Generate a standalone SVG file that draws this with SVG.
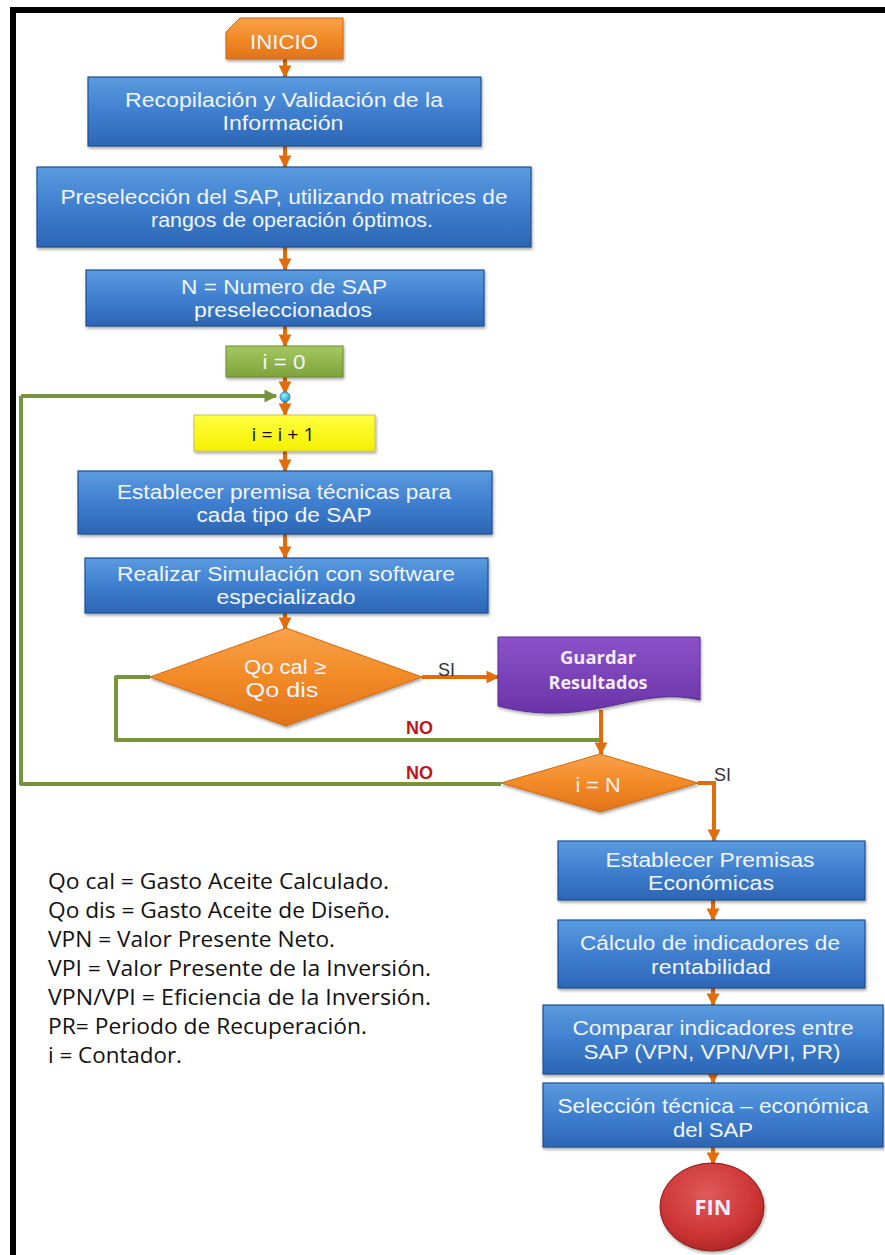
<svg xmlns="http://www.w3.org/2000/svg" width="885" height="1255" viewBox="0 0 885 1255">
  <defs>
    <linearGradient id="gBlue" x1="0" y1="0" x2="0" y2="1">
      <stop offset="0" stop-color="#5b9be0"/>
      <stop offset="0.5" stop-color="#3f7fcf"/>
      <stop offset="1" stop-color="#2c66b5"/>
    </linearGradient>
    <linearGradient id="gOrange" x1="0" y1="0" x2="0" y2="1">
      <stop offset="0" stop-color="#f9a24a"/>
      <stop offset="0.5" stop-color="#f28a26"/>
      <stop offset="1" stop-color="#e0731a"/>
    </linearGradient>
    <linearGradient id="gGreen" x1="0" y1="0" x2="0" y2="1">
      <stop offset="0" stop-color="#a4c860"/>
      <stop offset="1" stop-color="#7ea33a"/>
    </linearGradient>
    <linearGradient id="gYellow" x1="0" y1="0" x2="0" y2="1">
      <stop offset="0" stop-color="#ffff40"/>
      <stop offset="1" stop-color="#f4f000"/>
    </linearGradient>
    <linearGradient id="gPurple" x1="0" y1="0" x2="0" y2="1">
      <stop offset="0" stop-color="#8b52c8"/>
      <stop offset="1" stop-color="#6a34a8"/>
    </linearGradient>
    <radialGradient id="gRed" cx="0.45" cy="0.35" r="0.7">
      <stop offset="0" stop-color="#e05a5a"/>
      <stop offset="0.7" stop-color="#cc3333"/>
      <stop offset="1" stop-color="#a82424"/>
    </radialGradient>
    <radialGradient id="gDot" cx="0.4" cy="0.35" r="0.7">
      <stop offset="0" stop-color="#9ff0ff"/>
      <stop offset="1" stop-color="#1a9cc8"/>
    </radialGradient>
    <filter id="shadow" x="-10%" y="-10%" width="120%" height="130%">
      <feDropShadow dx="1" dy="2" stdDeviation="1.5" flood-color="#000" flood-opacity="0.35"/>
    </filter>
    <marker id="arrOrange" viewBox="0 0 10 10" refX="9" refY="5" markerWidth="3.2" markerHeight="3.2" orient="auto" markerUnits="strokeWidth">
      <path d="M0,0 L10,5 L0,10 Z" fill="#e36c0a"/>
    </marker>
    <marker id="arrGreen" viewBox="0 0 10 10" refX="9" refY="5" markerWidth="3.2" markerHeight="3.2" orient="auto" markerUnits="strokeWidth">
      <path d="M0,0 L10,5 L0,10 Z" fill="#77933c"/>
    </marker>
    <style>
      .box { fill: url(#gBlue); stroke: #1f4f8f; stroke-width: 1.2; filter: url(#shadow); }
      .dia { fill: url(#gOrange); stroke: #d06a10; stroke-width: 1; filter: url(#shadow); }
      .t { font-family: "Liberation Sans", Arial, sans-serif; font-size: 20px; fill: #f2f6ff; text-anchor: middle; }
      .tb { font-family: "Open Sans", "Liberation Sans", sans-serif; font-weight: bold; fill: #f4ecff; text-anchor: middle; }
      .flow { fill: none; stroke: #e36c0a; stroke-width: 4; marker-end: url(#arrOrange); }
      .plain { fill: none; stroke: #e36c0a; stroke-width: 4; }
      .loop { fill: none; stroke: #77933c; stroke-width: 4; stroke-linejoin: round; }
      .lab { font-family: "Liberation Sans", Arial, sans-serif; font-size: 18px; fill: #333; }
      .no { font-family: "Liberation Sans", Arial, sans-serif; font-size: 18px; font-weight: bold; fill: #c0141c; }
      .leg { font-family: "Open Sans", "Liberation Sans", sans-serif; font-size: 21px; fill: #111; }
    </style>
  </defs>

  <rect x="0" y="0" width="885" height="1255" fill="#ffffff"/>
  <!-- page frame: top and left rules -->
  <rect x="10" y="7" width="875" height="6" fill="#000"/>
  <rect x="10" y="7" width="6" height="1248" fill="#000"/>

  <!-- connectors -->
  <g id="connectors">
    <line class="flow" x1="285" y1="59" x2="285" y2="77"/>
    <line class="flow" x1="285" y1="146" x2="285" y2="167"/>
    <line class="flow" x1="285" y1="247" x2="285" y2="270"/>
    <line class="flow" x1="285" y1="326" x2="285" y2="346"/>
    <line class="flow" x1="285" y1="377" x2="285" y2="393"/>
    <line class="flow" x1="285" y1="401" x2="285" y2="415"/>
    <line class="flow" x1="285" y1="451" x2="285" y2="471"/>
    <line class="flow" x1="285" y1="534" x2="285" y2="558"/>
    <line class="flow" x1="285" y1="613" x2="285" y2="629"/>
    <line class="flow" x1="422" y1="677" x2="498" y2="677"/>
    <path class="loop" d="M150,677 H116 V740 H601"/>
    <line class="flow" x1="601" y1="710" x2="601" y2="754"/>
    <path class="loop" d="M501,784 H21 V396"/>
    <line class="loop" x1="21" y1="396" x2="276" y2="396" marker-end="url(#arrGreen)"/>
    <path class="flow" d="M698,783 H714 V841"/>
    <line class="flow" x1="713" y1="900" x2="713" y2="920"/>
    <line class="flow" x1="713" y1="988" x2="713" y2="1005"/>
    <line class="flow" x1="713" y1="1074" x2="713" y2="1083"/>
    <line class="flow" x1="713" y1="1147" x2="713" y2="1164"/>
    <text class="lab" x="438" y="676">SI</text>
    <text class="no" x="406" y="734">NO</text>
    <text class="no" x="406" y="779">NO</text>
    <text class="lab" x="714" y="781">SI</text>
  </g>

  <g id="inicio">
    <path d="M240,18 H343 V59 H226 V32 Z" fill="url(#gOrange)" stroke="#c8640e" stroke-width="1" filter="url(#shadow)"/>
    <text class="t" x="284" y="49" font-size="19" fill="#fde8d0" textLength="68" lengthAdjust="spacingAndGlyphs">INICIO</text>
  </g>

  <g id="recopilacion">
    <rect class="box" x="88" y="77" width="393" height="69"/>
    <text class="t" x="284" y="107" textLength="318" lengthAdjust="spacingAndGlyphs">Recopilación y Validación de la</text>
    <text class="t" x="283" y="130" textLength="121" lengthAdjust="spacingAndGlyphs">Información</text>
  </g>

  <g id="preseleccion">
    <rect class="box" x="37" y="167" width="494" height="80"/>
    <text class="t" x="284" y="204" textLength="447" lengthAdjust="spacingAndGlyphs">Preselección del SAP, utilizando matrices de</text>
    <text class="t" x="292" y="227" textLength="282" lengthAdjust="spacingAndGlyphs">rangos de operación óptimos.</text>
  </g>

  <g id="numero-sap">
    <rect class="box" x="86" y="270" width="398" height="56"/>
    <text class="t" x="284" y="294" textLength="206" lengthAdjust="spacingAndGlyphs">N = Numero de SAP</text>
    <text class="t" x="283" y="317" textLength="178" lengthAdjust="spacingAndGlyphs">preseleccionados</text>
  </g>

  <g id="i-cero">
    <rect x="226" y="346" width="117" height="31" fill="url(#gGreen)" stroke="#6a8a30" stroke-width="1" filter="url(#shadow)"/>
    <text class="t" x="284" y="369" fill="#dcefc0" textLength="43" lengthAdjust="spacingAndGlyphs">i = 0</text>
  </g>

  <g id="union">
    <circle cx="285" cy="397" r="5" fill="url(#gDot)" stroke="#1a7fa8" stroke-width="0.8"/>
  </g>

  <g id="incremento">
    <rect x="194" y="415" width="181" height="36" fill="url(#gYellow)" stroke="#c8c060" stroke-width="1" filter="url(#shadow)"/>
    <text x="283" y="441" font-family="Open Sans, Liberation Sans, sans-serif" font-size="19" fill="#111" text-anchor="middle" textLength="63" lengthAdjust="spacingAndGlyphs">i = i + 1</text>
  </g>

  <g id="premisa-tecnica">
    <rect class="box" x="78" y="471" width="414" height="63"/>
    <text class="t" x="284" y="499" textLength="334" lengthAdjust="spacingAndGlyphs">Establecer premisa técnicas para</text>
    <text class="t" x="284" y="522" textLength="175" lengthAdjust="spacingAndGlyphs">cada tipo de SAP</text>
  </g>

  <g id="simulacion">
    <rect class="box" x="85" y="558" width="403" height="55"/>
    <text class="t" x="286" y="581" textLength="338" lengthAdjust="spacingAndGlyphs">Realizar Simulación con software</text>
    <text class="t" x="286" y="604" textLength="139" lengthAdjust="spacingAndGlyphs">especializado</text>
  </g>

  <g id="decision-qo">
    <path class="dia" d="M286,628 L422,677 L286,726 L150,677 Z"/>
    <text class="t" x="285" y="674" fill="#fde6cc" textLength="82" lengthAdjust="spacingAndGlyphs">Qo cal ≥</text>
    <text class="t" x="282" y="697" fill="#fde6cc" textLength="73" lengthAdjust="spacingAndGlyphs">Qo dis</text>
  </g>

  <g id="guardar">
    <path d="M498,637 H700 V700 C665,692 640,700 600,708 C560,716 530,714 498,706 Z" fill="url(#gPurple)" stroke="#5a2a90" stroke-width="1" filter="url(#shadow)"/>
    <text class="tb" x="598" y="664" font-size="17" textLength="76" lengthAdjust="spacingAndGlyphs">Guardar</text>
    <text class="tb" x="598" y="689" font-size="17" textLength="99" lengthAdjust="spacingAndGlyphs">Resultados</text>
  </g>

  <g id="decision-n">
    <path class="dia" d="M600,754 L698,783 L600,812 L501,783 Z"/>
    <text class="t" x="598" y="792" fill="#fde6cc" textLength="45" lengthAdjust="spacingAndGlyphs">i = N</text>
  </g>

  <g id="premisas-economicas">
    <rect class="box" x="558" y="841" width="307" height="59"/>
    <text class="t" x="710" y="867" textLength="209" lengthAdjust="spacingAndGlyphs">Establecer Premisas</text>
    <text class="t" x="711" y="890" textLength="126" lengthAdjust="spacingAndGlyphs">Económicas</text>
  </g>

  <g id="indicadores">
    <rect class="box" x="558" y="920" width="307" height="68"/>
    <text class="t" x="710" y="950" textLength="260" lengthAdjust="spacingAndGlyphs">Cálculo de indicadores de</text>
    <text class="t" x="711" y="974" textLength="120" lengthAdjust="spacingAndGlyphs">rentabilidad</text>
  </g>

  <g id="comparar">
    <rect class="box" x="543" y="1005" width="340" height="69"/>
    <text class="t" x="713" y="1035" textLength="281" lengthAdjust="spacingAndGlyphs">Comparar indicadores entre</text>
    <text class="t" x="712" y="1059" textLength="257" lengthAdjust="spacingAndGlyphs">SAP (VPN, VPN/VPI, PR)</text>
  </g>

  <g id="seleccion">
    <rect class="box" x="543" y="1083" width="340" height="64"/>
    <text class="t" x="713" y="1113" textLength="311" lengthAdjust="spacingAndGlyphs">Selección técnica – económica</text>
    <text class="t" x="713" y="1137" textLength="80" lengthAdjust="spacingAndGlyphs">del SAP</text>
  </g>

  <g id="fin">
    <ellipse cx="712" cy="1207" rx="52" ry="44" fill="url(#gRed)" stroke="#8a1c1c" stroke-width="1" filter="url(#shadow)"/>
    <text class="tb" x="713" y="1215" font-size="21" fill="#fff4f0" textLength="37" lengthAdjust="spacingAndGlyphs">FIN</text>
  </g>

  <g id="leyenda">
    <text class="leg" x="48" y="889" textLength="341" lengthAdjust="spacingAndGlyphs">Qo cal = Gasto Aceite Calculado.</text>
    <text class="leg" x="48" y="918" textLength="342" lengthAdjust="spacingAndGlyphs">Qo dis = Gasto Aceite de Diseño.</text>
    <text class="leg" x="48" y="947" textLength="287" lengthAdjust="spacingAndGlyphs">VPN = Valor Presente Neto.</text>
    <text class="leg" x="48" y="976" textLength="383" lengthAdjust="spacingAndGlyphs">VPI = Valor Presente de la Inversión.</text>
    <text class="leg" x="48" y="1005" textLength="383" lengthAdjust="spacingAndGlyphs">VPN/VPI = Eficiencia de la Inversión.</text>
    <text class="leg" x="48" y="1034" textLength="319" lengthAdjust="spacingAndGlyphs">PR= Periodo de Recuperación.</text>
    <text class="leg" x="48" y="1063" textLength="134" lengthAdjust="spacingAndGlyphs">i = Contador.</text>
  </g>
</svg>
